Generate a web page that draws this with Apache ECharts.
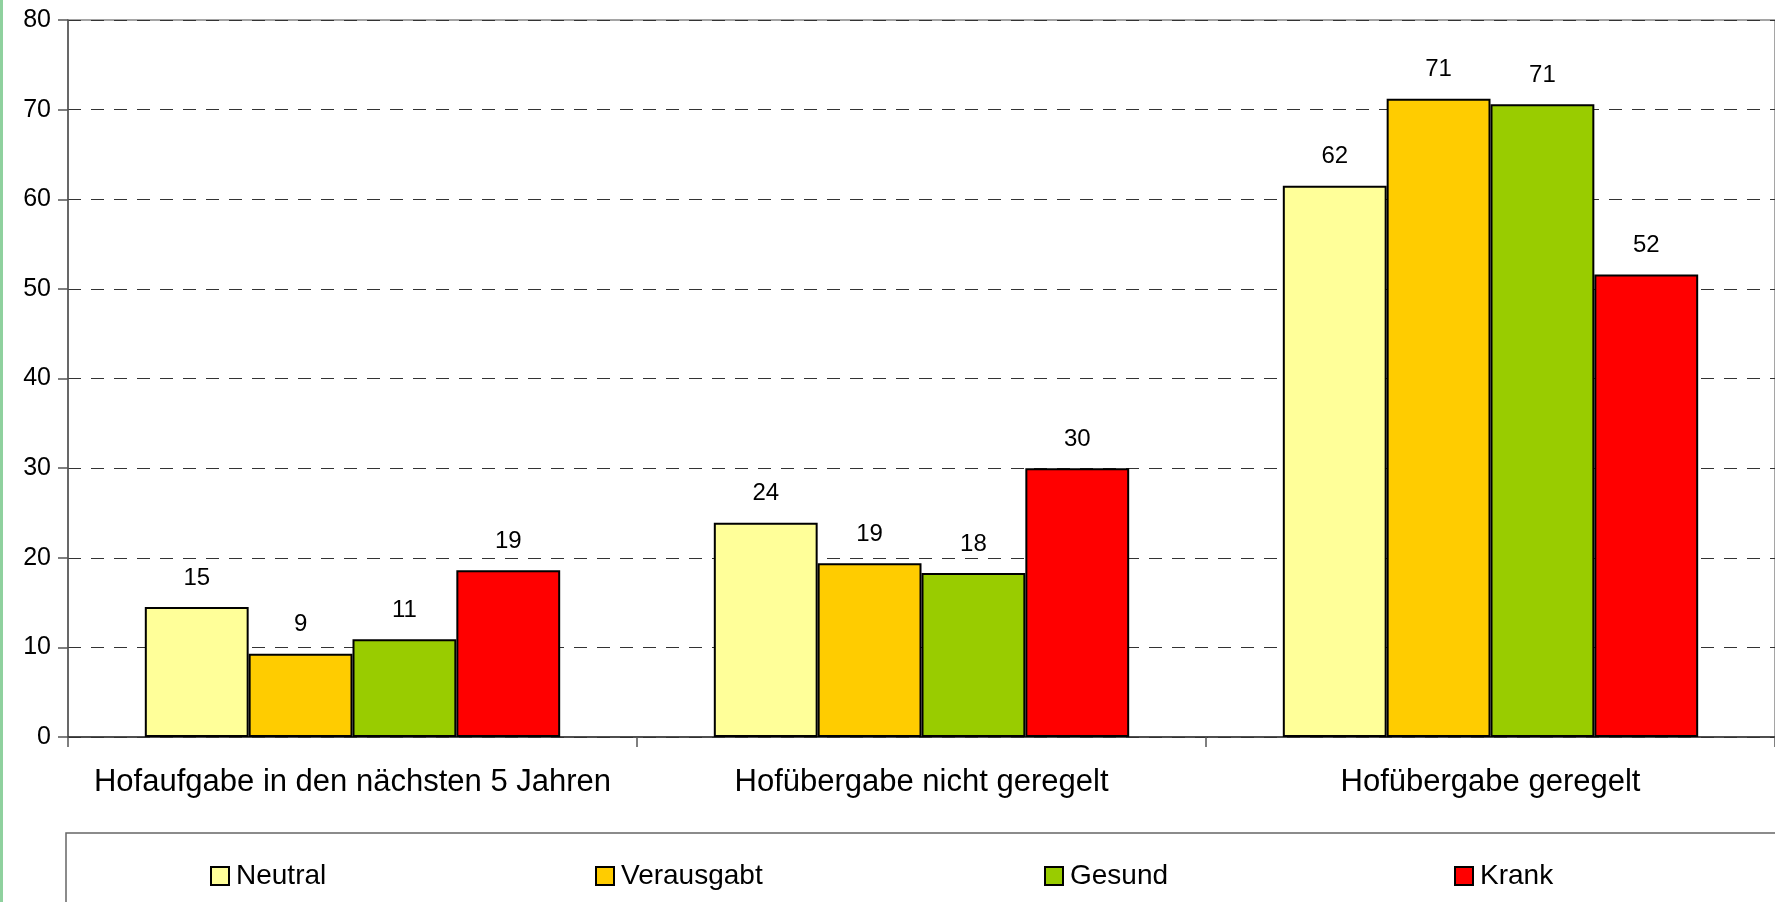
<!DOCTYPE html>
<html>
<head>
<meta charset="utf-8">
<script src="https://cdn.jsdelivr.net/npm/echarts@6/dist/echarts.min.js"></script>
<style>
html,body{margin:0;padding:0;background:#fff;}
#c{width:1775px;height:902px;}
</style>
</head>
<body>
<div id="c"></div>
<script>
const categories = ['Hofaufgabe in den nächsten 5 Jahren', 'Hofübergabe nicht geregelt', 'Hofübergabe geregelt'];
const seriesNames = ['Neutral', 'Verausgabt', 'Gesund', 'Krank'];
const neutral = [14.5, 23.9, 61.5];
const verausgabt = [9.3, 19.4, 71.2];
const gesund = [10.9, 18.3, 70.6];
const krank = [18.6, 30.0, 51.6];
const yTicks = [0, 10, 20, 30, 40, 50, 60, 70, 80];

const colors = ['#FFFF99', '#FFCC00', '#99CC00', '#FF0000'];
const values = [neutral, verausgabt, gesund, krank];
const FONT = 'Liberation Sans, Arial, sans-serif';

const chart = echarts.init(document.getElementById('c'));
const legendLefts = [205, 590, 1039, 1449];

const option = {
  backgroundColor: '#ffffff',
  animation: false,
  textStyle: { fontFamily: FONT, color: '#000' },
  grid: { left: 68, right: 0, top: 20, bottom: 165, show: true, borderColor: '#888888', borderWidth: 1.5, backgroundColor: 'transparent' },
  legend: seriesNames.map((n, i) => ({
    data: [n], left: legendLefts[i], top: 857, itemWidth: 18, itemHeight: 18, itemGap: 6,
    icon: 'rect',
    textStyle: { fontSize: 28, fontFamily: FONT, color: '#000', padding: [0, 0, 0, 2] }
  })),
  graphic: [
    { type: 'rect', shape: { x: 66, y: 833, width: 1720, height: 80 }, style: { fill: 'none', stroke: '#666', lineWidth: 1.5 }, silent: true },
    { type: 'rect', shape: { x: 0, y: 0, width: 3, height: 902 }, style: { fill: '#8fd19e' }, silent: true }
  ],
  xAxis: {
    type: 'category', data: categories,
    axisLine: { lineStyle: { color: '#333', width: 1.5 } },
    axisTick: { show: true, alignWithLabel: false, length: 10, lineStyle: { color: '#555', width: 1.5 } },
    axisLabel: { fontSize: 31, color: '#000', margin: 30, fontFamily: FONT, interval: 0 },
    splitLine: { show: false }
  },
  yAxis: {
    type: 'value', min: yTicks[0], max: yTicks[yTicks.length - 1], interval: 10,
    axisLine: { show: true, lineStyle: { color: '#555', width: 1.5 } },
    axisTick: { show: true, length: 10, lineStyle: { color: '#555', width: 1.5 } },
    axisLabel: { fontSize: 25, color: '#000', margin: 17, fontFamily: FONT },
    splitLine: { show: true, lineStyle: { color: '#333', width: 1.2, type: [13, 10] } }
  },
  series: seriesNames.map((n, i) => ({
    name: n, type: 'bar', data: values[i],
    barGap: '0%', barCategoryGap: '27%',
    itemStyle: { color: colors[i], borderColor: '#000', borderWidth: 2 },
    label: { show: true, position: 'top', distance: 17, fontSize: 24, color: '#000', fontFamily: FONT,
      formatter: p => Math.round(p.value) }
  }))
};
chart.setOption(option);
</script>
</body>
</html>
